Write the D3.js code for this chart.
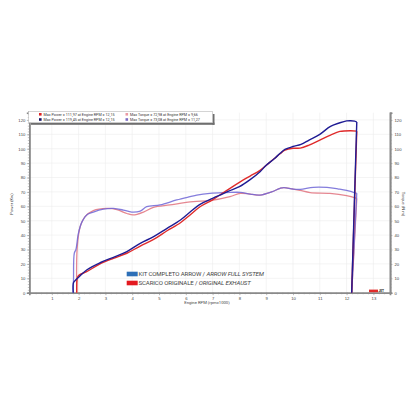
<!DOCTYPE html>
<html>
<head>
<meta charset="utf-8">
<script src="https://cdn.jsdelivr.net/npm/d3@7"></script>
<style>
  html, body { margin: 0; padding: 0; background: #fff; }
  svg { display: block; font-family: Roboto, "Liberation Sans", sans-serif; }
</style>
</head>
<body>
<svg id="chart" width="420" height="420"></svg>
<script>
// dyno run, rpm x1000 vs power (kW) and torque (N m)
const powerArrow = [[1.8,0],[1.81,7],[1.9,9],[2.0,10.7],[2.3,15.8],[2.8,20.8],[3.3,24.6],[3.8,28.5],[4.3,34.3],[4.8,38.9],[5.3,44.7],[5.8,50.5],[6.16,56],[6.5,61],[7.0,65.5],[7.3,68],[7.6,70.5],[8.0,73.6],[8.4,78.5],[8.77,84],[9.0,88.5],[9.3,93],[9.52,96.8],[9.7,99.5],[10.0,101.5],[10.3,103],[10.6,106],[11.0,110],[11.4,115.5],[11.75,118],[12.0,119.3],[12.15,119.45],[12.3,119.2],[12.38,118.5],[12.19,0]];
const powerOrig = [[1.93,0],[1.95,10],[2.0,12],[2.3,14.6],[2.8,20],[3.3,23.9],[3.8,27.4],[4.3,32.4],[4.8,37],[5.3,43],[5.8,48.6],[6.16,54],[6.53,59.7],[7.0,64.5],[7.28,68],[7.65,72.5],[8.03,77],[8.4,81],[8.77,85],[9.1,90],[9.52,96.5],[9.7,99],[10.0,100.3],[10.27,100.4],[10.6,102.5],[11.0,106],[11.4,109.5],[11.75,112],[12.15,112.5],[12.38,112.2],[12.19,0]];
const torqueArrow = [[1.8,0],[1.81,9],[1.84,27.5],[1.9,30],[1.99,41],[2.12,49],[2.3,54],[2.55,56],[2.93,58],[3.3,58.5],[3.67,57.4],[3.98,56],[4.3,56.7],[4.54,59.7],[5.04,61],[5.66,64.4],[6.16,66.7],[6.41,67.8],[6.9,69],[7.5,69.5],[8.03,69.7],[8.4,68.5],[8.77,67.8],[9.2,70],[9.52,72.5],[9.66,73],[10.0,72],[10.27,71.8],[10.76,73.2],[11.27,73.1],[11.7,72],[12.0,71],[12.38,69],[12.19,0]];
const torqueOrig = [[1.93,0],[1.95,32],[2.06,46],[2.24,52.8],[2.55,57],[3.05,58.5],[3.43,57.7],[3.8,55],[4.04,54],[4.42,56],[4.79,59.3],[5.41,61],[6.28,63.2],[6.9,64],[7.65,66.7],[8.03,69],[8.4,68.5],[8.77,67.8],[9.2,70],[9.52,72.5],[9.66,73],[10.0,72],[10.27,71],[10.64,69.5],[11.38,69],[12.0,67.4],[12.38,65.5],[12.19,0]];

const xTicks = [1,2,3,4,5,6,7,8,9,10,11,12,13];
const yTicks = [0,10,20,30,40,50,60,70,80,90,100,110,120];

const maxLabels = [
  "Max Power = 111,97 at Engine RPM = 12,15",
  "Max Power = 119,45 at Engine RPM = 12,15",
  "Max Torque = 72,98 at Engine RPM = 9,66",
  "Max Torque = 73,08 at Engine RPM = 11,27"
];
const maxColors = ["#e02424", "#141466", "#eb9aa4", "#7c6cc4"];

const legendNames = [
  ["KIT COMPLETO ARROW / ", "ARROW FULL SYSTEM"],
  ["SCARICO ORIGINALE / ", "ORIGINAL EXHAUST"]
];
const legendColors = ["#2d6fb7", "#e3191f"];

const svg = d3.select("#chart");
const x = d3.scaleLinear().domain([0.16, 13.62]).range([29.3, 390]);
const y = d3.scaleLinear().domain([0, 125]).range([292.7, 112.7]);

// grid
svg.append("g").selectAll("line").data(xTicks).enter().append("line")
  .attr("x1", d => x(d)).attr("x2", d => x(d))
  .attr("y1", y(0)).attr("y2", y(125))
  .attr("stroke", "#ececec").attr("stroke-width", 0.6);
svg.append("g").selectAll("line").data(yTicks).enter().append("line")
  .attr("x1", x.range()[0]).attr("x2", x.range()[1])
  .attr("y1", d => y(d)).attr("y2", d => y(d))
  .attr("stroke", "#ececec").attr("stroke-width", 0.6);

// axes
function styleAxis(g) {
  g.selectAll(".domain").attr("stroke", "#8a8a8a").attr("stroke-width", 1.6);
  g.selectAll(".tick line").attr("stroke", "#8a8a8a").attr("stroke-width", 0.5);
  g.selectAll("text").attr("fill", "#444").attr("font-size", 4.2);
}
const minorX = d3.range(0.2, 13.61, 0.2);
const minorY = d3.range(0, 125.1, 2);

svg.append("g").attr("transform", `translate(0,${y(0)})`)
  .call(d3.axisBottom(x).tickValues(minorX).tickSize(1.6).tickFormat(""))
  .call(styleAxis);
svg.append("g").attr("transform", `translate(0,${y(0)})`)
  .call(d3.axisBottom(x).tickValues(xTicks).tickSize(2.5).tickPadding(1.5))
  .call(styleAxis);

svg.append("g").attr("transform", `translate(${x.range()[0]},0)`)
  .call(d3.axisLeft(y).tickValues(minorY).tickSize(1.5).tickFormat(""))
  .call(styleAxis);
svg.append("g").attr("transform", `translate(${x.range()[0]},0)`)
  .call(d3.axisLeft(y).tickValues(yTicks).tickSize(2.5).tickPadding(1.5))
  .call(styleAxis);

svg.append("g").attr("transform", `translate(${x.range()[1]},0)`)
  .call(d3.axisRight(y).tickValues(d3.range(0, 125.1, 1)).tickSize(1.8).tickFormat(""))
  .call(styleAxis);
svg.append("g").attr("transform", `translate(${x.range()[1]},0)`)
  .call(d3.axisRight(y).tickValues(yTicks).tickSize(2.5).tickPadding(2))
  .call(styleAxis);

svg.append("text").attr("x", 207).attr("y", 304).attr("text-anchor", "middle")
  .attr("font-size", 4.2).attr("fill", "#444").text("Engine RPM (rpmx1000)");
svg.append("text").attr("transform", "translate(13,204) rotate(-90)").attr("text-anchor", "middle")
  .attr("font-size", 4.2).attr("fill", "#444").text("Power (Kw)");
svg.append("text").attr("transform", "translate(402,204) rotate(90)").attr("text-anchor", "middle")
  .attr("font-size", 4.2).attr("fill", "#444").text("Torque (N m)");

// curves: smooth body, then straight drop at the end of the run
const lineLin = d3.line().x(d => x(d[0])).y(d => y(d[1]));
const lineSmooth = d3.line().x(d => x(d[0])).y(d => y(d[1])).curve(d3.curveCatmullRom.alpha(0.5));
function drawCurve(data, color, width, opacity) {
  const body = data.slice(0, -1);
  const drop = data.slice(-2);
  svg.append("path").datum(body).attr("d", lineSmooth)
    .attr("fill", "none").attr("stroke", color).attr("stroke-width", width).attr("stroke-opacity", opacity)
    .attr("stroke-linejoin", "round");
  svg.append("path").datum(drop).attr("d", lineLin)
    .attr("fill", "none").attr("stroke", color).attr("stroke-width", width).attr("stroke-opacity", opacity);
}
drawCurve(torqueOrig, "#e27a85", 1.3, 0.9);
drawCurve(torqueArrow, "#6e66d6", 1.3, 0.85);
drawCurve(powerOrig, "#df2b2b", 1.4, 1);
drawCurve(powerArrow, "#1f1c94", 1.4, 1);

// max value box
const box = svg.append("g");
box.append("rect").attr("x", 31).attr("y", 122.6).attr("width", 183.5).attr("height", 2.2).attr("fill", "#6e6e6e");
box.append("rect").attr("x", 212.5).attr("y", 114).attr("width", 2).attr("height", 10.8).attr("fill", "#6e6e6e");
box.append("rect").attr("x", 28.5).attr("y", 111.5).attr("width", 184).attr("height", 11.2)
  .attr("fill", "#fff").attr("stroke", "#aaa").attr("stroke-width", 0.5);
maxLabels.forEach((t, i) => {
  const col = Math.floor(i / 2), row = i % 2;
  const bx = col === 0 ? 39 : 125.5;
  const by = 114.2 + row * 5.2;
  box.append("rect").attr("x", bx).attr("y", by - 1.2).attr("width", 2.6).attr("height", 2.6).attr("fill", maxColors[i]);
  box.append("text").attr("x", bx + 4.5).attr("y", by + 1.3).attr("font-size", 3.7).attr("fill", "#333").text(t);
});

// legend
const leg = svg.append("g");
legendNames.forEach((n, i) => {
  const ly = 271.7 + i * 9;
  leg.append("rect").attr("x", 126.7).attr("y", ly).attr("width", 11).attr("height", 4.6).attr("fill", legendColors[i]);
  const t = leg.append("text").attr("x", 138.5).attr("y", ly + 4.4)
    .attr("font-size", 6.1).attr("fill", "#444").attr("letter-spacing", -0.12);
  t.append("tspan").text(n[0]);
  t.append("tspan").attr("font-style", "italic").text(n[1]);
});

// small logo
svg.append("rect").attr("x", 369).attr("y", 289.6).attr("width", 9).attr("height", 2.6).attr("fill", "#e02b2b");
svg.append("text").attr("x", 378.5).attr("y", 292).attr("font-size", 3.2).attr("font-weight", "bold").attr("fill", "#222").text("JET");
</script>
</body>
</html>
